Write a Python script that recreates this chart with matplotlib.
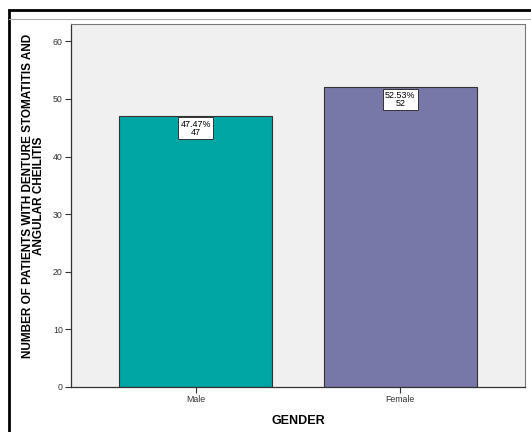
import matplotlib.pyplot as plt
from matplotlib.patches import Rectangle
from matplotlib.lines import Line2D

# data
genders = ['Male', 'Female']
counts = [47, 52]
percents = ['47.47%', '52.53%']
colors = ['#00a6a3', '#7878a8']

plt.rcParams['font.family'] = ['Liberation Sans', 'DejaVu Sans']

fig = plt.figure(figsize=(5.31, 4.32), dpi=100)
ax = fig.add_axes([71/531, 45/432, 454/531, 363/432])
ax.set_facecolor('#f0f0f0')

x = list(range(len(genders)))
ax.bar(x, counts, width=0.748, color=colors, edgecolor='#333333', linewidth=0.8, zorder=2)

for xi, c, p in zip(x, counts, percents):
    ax.annotate(f'{p}\n{c}', xy=(xi, c), xytext=(0, -2.5), textcoords='offset points',
                ha='center', va='top', fontsize=6.4, linespacing=0.85, zorder=3,
                bbox=dict(boxstyle='square,pad=0.25', fc='white', ec='#333333', lw=0.7))

ax.set_xlim(-0.61, 1.61)
ax.set_ylim(0, 63)
ax.set_yticks(range(0, 61, 10))
ax.set_xticks(x)
ax.set_xticklabels(genders)
ax.tick_params(axis='both', labelsize=6.3, length=4, width=0.8, colors='#333333', pad=2)

for s in ['left', 'bottom']:
    ax.spines[s].set_color('#333333')
    ax.spines[s].set_linewidth(0.9)
for s in ['top', 'right']:
    ax.spines[s].set_color('#777777')
    ax.spines[s].set_linewidth(0.8)

ax.set_xlabel('GENDER', fontsize=9, fontweight='bold', labelpad=8)
ax.set_ylabel('NUMBER OF PATIENTS WITH DENTURE STOMATITIS AND\nANGULAR CHEILITIS',
              fontsize=8.5, fontweight='bold', linespacing=0.9)
ax.yaxis.set_label_coords(-0.057, 0.526)

# outer frame like the exported image
fig.patches.append(Rectangle((9/531, -0.01), 1.0, 1 - 10/432 + 0.01, transform=fig.transFigure,
                             fill=False, ec='black', lw=2))
fig.lines.append(Line2D([9/531, 1], [1 - 19/432, 1 - 19/432], transform=fig.transFigure,
                        color='#aaaaaa', lw=0.8))

fig.savefig('out.png', dpi=100)
